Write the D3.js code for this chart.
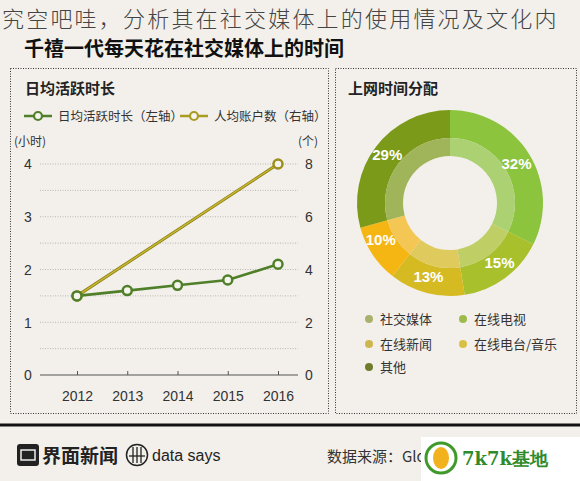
<!DOCTYPE html>
<html><head><meta charset="utf-8">
<script src="https://cdn.jsdelivr.net/npm/d3@7/dist/d3.min.js"></script>
<style>body{margin:0;background:#f3f0eb;}svg{display:block;font-family:"Noto Sans CJK SC","Noto Sans",sans-serif;}</style>
</head><body>
<script>
const years = [2012, 2013, 2014, 2015, 2016];
const hoursValues = [1.5, 1.6, 1.7, 1.8, 2.1];
const accountYears = [2012, 2016];
const accountValues = [3, 8];
const leftTicks = [0, 1, 2, 3, 4];
const rightTicks = [0, 2, 4, 6, 8];
const shareCategories = ["社交媒体", "在线电视", "在线新闻", "在线电台/音乐", "其他"];
const shareValues = [32, 15, 13, 10, 29];
const sliceColors = ["#8cc43e", "#a8c02c", "#d6ba22", "#f5b614", "#7c9a1a"];
const legendColors = ["#a9b26c", "#9dbb4c", "#cdb64e", "#d8c045", "#6f7c2c"];

const W = 580, H = 481;
const svg = d3.select("body").append("svg").attr("width", W).attr("height", H);
svg.append("rect").attr("width", W).attr("height", H).attr("fill", "#f3f0eb");

// header texts
svg.append("text").attr("x", 2).attr("y", 26.5).attr("font-size", 22).attr("letter-spacing", 2.2).attr("fill", "#444").attr("font-weight", 300)
  .text("究空吧哇，分析其在社交媒体上的使用情况及文化内");
svg.append("text").attr("x", 24).attr("y", 56).attr("font-size", 20).attr("font-weight", "bold").attr("fill", "#111")
  .text("千禧一代每天花在社交媒体上的时间");

// panels
[[10, 68, 318, 345], [335, 68, 241, 345]].forEach(([x, y, w, h]) => {
  svg.append("rect").attr("x", x + 0.5).attr("y", y + 0.5).attr("width", w).attr("height", h)
    .attr("fill", "none").attr("stroke", "#333").attr("stroke-width", 1).attr("stroke-dasharray", "1,1.5");
});

// ---- left chart
const g = svg.append("g");
g.append("text").attr("x", 25).attr("y", 94).attr("font-size", 15).attr("font-weight", "bold").attr("fill", "#222").text("日均活跃时长");

const x = d3.scalePoint().domain(years).range([77, 278]);
const yL = d3.scaleLinear().domain([0, 4]).range([375, 164]);
const yR = d3.scaleLinear().domain([0, 8]).range([375, 164]);

// grid
const gridVals = d3.range(0.5, 4.01, 0.5);
g.append("g").selectAll("line").data(gridVals).join("line")
  .attr("x1", 40).attr("x2", 298).attr("y1", d => yL(d)).attr("y2", d => yL(d))
  .attr("stroke", "#b8b5ae").attr("stroke-width", 1).attr("stroke-dasharray", "1,1.5");

// left axis
const axL = d3.axisLeft(yL).tickValues(leftTicks).tickFormat(d3.format("d")).tickSize(0).tickPadding(0);
const gL = g.append("g").attr("transform", "translate(28,0)").call(axL);
gL.select(".domain").remove();
gL.selectAll("text").attr("font-size", 14).attr("fill", "#333").attr("text-anchor", "middle").attr("font-family", "Liberation Sans, sans-serif").attr("dy", "0.35em");

const axR = d3.axisRight(yR).tickValues(rightTicks).tickFormat(d3.format("d")).tickSize(0).tickPadding(0);
const gR = g.append("g").attr("transform", "translate(309,0)").call(axR);
gR.select(".domain").remove();
gR.selectAll("text").attr("font-size", 14).attr("fill", "#333").attr("text-anchor", "middle").attr("font-family", "Liberation Sans, sans-serif").attr("dy", "0.35em");

// x axis
const axB = d3.axisBottom(x).tickSize(4).tickPadding(12);
const gB = g.append("g").attr("transform", "translate(0,375)").call(axB);
gB.select(".domain").attr("d", "M40,0H298").attr("stroke", "#555").attr("stroke-width", 1.2);
gB.selectAll(".tick line").attr("stroke", "#555").attr("y2", -4).attr("y1", 0);
gB.selectAll("text").attr("font-size", 14).attr("fill", "#333").attr("font-family", "Liberation Sans, sans-serif");

g.append("text").attr("x", 14).attr("y", 146).attr("font-size", 12).attr("fill", "#333").text("(小时)");
g.append("text").attr("x", 318).attr("y", 146).attr("font-size", 12).attr("fill", "#333").attr("text-anchor", "end").text("(个)");

// legend
const legY = 116;
function legItem(x0, col, label) {
  g.append("line").attr("x1", x0).attr("x2", x0 + 28).attr("y1", legY).attr("y2", legY).attr("stroke", col).attr("stroke-width", 2.5);
  g.append("circle").attr("cx", x0 + 14).attr("cy", legY).attr("r", 4).attr("fill", "#f6f4ef").attr("stroke", col).attr("stroke-width", 2.2);
  g.append("text").attr("x", x0 + 34).attr("y", legY + 5).attr("font-size", 12.5).attr("fill", "#333").text(label);
}
legItem(24, "#4f7f28", "日均活跃时长（左轴）");
legItem(180, "#a99c22", "人均账户数（右轴）");

// olive line
const lineR = d3.line().x((d, i) => x(accountYears[i])).y(d => yR(d));
g.append("path").datum(accountValues).attr("d", lineR).attr("fill", "none").attr("stroke", "#8a7e16").attr("stroke-width", 3);
g.append("path").datum(accountValues).attr("d", lineR).attr("fill", "none").attr("stroke", "#c9b92e").attr("stroke-width", 1.4);

// green line
const lineL = d3.line().x((d, i) => x(years[i])).y(d => yL(d));
g.append("path").datum(hoursValues).attr("d", lineL).attr("fill", "none").attr("stroke", "#4f7f28").attr("stroke-width", 2.6);

g.selectAll(".mr").data(accountValues).join("circle").attr("class", "mr")
  .attr("cx", (d, i) => x(accountYears[i])).attr("cy", d => yR(d)).attr("r", 4.5)
  .attr("fill", "#f6f4ef").attr("stroke", "#9c8e1c").attr("stroke-width", 2.5);
g.selectAll(".ml").data(hoursValues).join("circle").attr("class", "ml")
  .attr("cx", (d, i) => x(years[i])).attr("cy", d => yL(d)).attr("r", 4.5)
  .attr("fill", "#f6f4ef").attr("stroke", "#4f7f28").attr("stroke-width", 2.5);

// ---- right donut
const r = svg.append("g");
r.append("text").attr("x", 348).attr("y", 94).attr("font-size", 15).attr("font-weight", "bold").attr("fill", "#222").text("上网时间分配");

const cx = 450, cy = 203;
const pie = d3.pie().sort(null).value(d => d)(shareValues);
const arcOuter = d3.arc().innerRadius(65).outerRadius(93);
const arcInner = d3.arc().innerRadius(47).outerRadius(65);
const dg = r.append("g").attr("transform", `translate(${cx},${cy})`);
dg.selectAll(".so").data(pie).join("path").attr("class", "so").attr("d", arcOuter).attr("fill", (d, i) => sliceColors[i]);
dg.selectAll(".si").data(pie).join("path").attr("class", "si").attr("d", arcInner)
  .attr("fill", (d, i) => d3.interpolateRgb(sliceColors[i], "#f3f0eb")(0.3));
const labelArc = d3.arc().innerRadius(70).outerRadius(70);
const labelOffsets = [[7, -2], [8, 3], [-4, 6], [-11, -2], [-7, -6]];
dg.selectAll(".lbl").data(pie).join("text").attr("class", "lbl")
  .attr("transform", (d, i) => { const c = labelArc.centroid(d); return `translate(${c[0] + labelOffsets[i][0]},${c[1] + labelOffsets[i][1]})`; })
  .attr("text-anchor", "middle").attr("dy", "0.35em").attr("font-size", 15).attr("font-weight", "bold")
  .attr("fill", "#fff").attr("font-family", "Liberation Sans, sans-serif")
  .text(d => d.data + "%");

// legend
const legPos = [[369, 319], [463, 319], [369, 344], [463, 344], [369, 367]];
shareCategories.forEach((c, i) => {
  r.append("circle").attr("cx", legPos[i][0]).attr("cy", legPos[i][1]).attr("r", 4).attr("fill", legendColors[i]);
  r.append("text").attr("x", legPos[i][0] + 11).attr("y", legPos[i][1] + 5).attr("font-size", 13).attr("fill", "#333").text(c);
});

// ---- footer
svg.append("line").attr("x1", 0).attr("x2", W).attr("y1", 425).attr("y2", 425).attr("stroke", "#111").attr("stroke-width", 3);
const f = svg.append("g");
f.append("rect").attr("x", 17).attr("y", 444).attr("width", 22).attr("height", 22).attr("rx", 3).attr("fill", "#222");
f.append("rect").attr("x", 21).attr("y", 450).attr("width", 14).attr("height", 10).attr("fill", "none").attr("stroke", "#eee").attr("stroke-width", 1.5);
f.append("text").attr("x", 42).attr("y", 463).attr("font-size", 19).attr("font-weight", "bold").attr("fill", "#222").text("界面新闻");
f.append("circle").attr("cx", 137).attr("cy", 455).attr("r", 10.5).attr("fill", "none").attr("stroke", "#222").attr("stroke-width", 1.5);
[133, 137, 141].forEach(xx => f.append("line").attr("x1", xx).attr("x2", xx).attr("y1", 447).attr("y2", 463).attr("stroke", "#222").attr("stroke-width", 1.3));
f.append("line").attr("x1", 129).attr("x2", 145).attr("y1", 456).attr("y2", 456).attr("stroke", "#222").attr("stroke-width", 1.3);
f.append("text").attr("x", 152).attr("y", 461).attr("font-size", 16).attr("fill", "#222").attr("font-family", "Liberation Sans, sans-serif").text("data says");
f.append("text").attr("x", 327).attr("y", 462).attr("font-size", 15).attr("fill", "#333").text("数据来源：Glo");

// watermark badge
f.append("rect").attr("x", 421).attr("y", 437).attr("width", 159).attr("height", 44).attr("fill", "#ffffff");
f.append("circle").attr("cx", 441).attr("cy", 458).attr("r", 15).attr("fill", "none").attr("stroke", "#3f9a2b").attr("stroke-width", 3);
f.append("ellipse").attr("cx", 441).attr("cy", 458).attr("rx", 8).attr("ry", 11).attr("fill", "#f2b21d");
f.append("text").attr("x", 462).attr("y", 465).attr("font-size", 18).attr("font-weight", "bold").attr("fill", "#2f8a2a")
  .attr("font-family", "DejaVu Serif, serif").text("7k7k基地");
</script>
</body></html>
